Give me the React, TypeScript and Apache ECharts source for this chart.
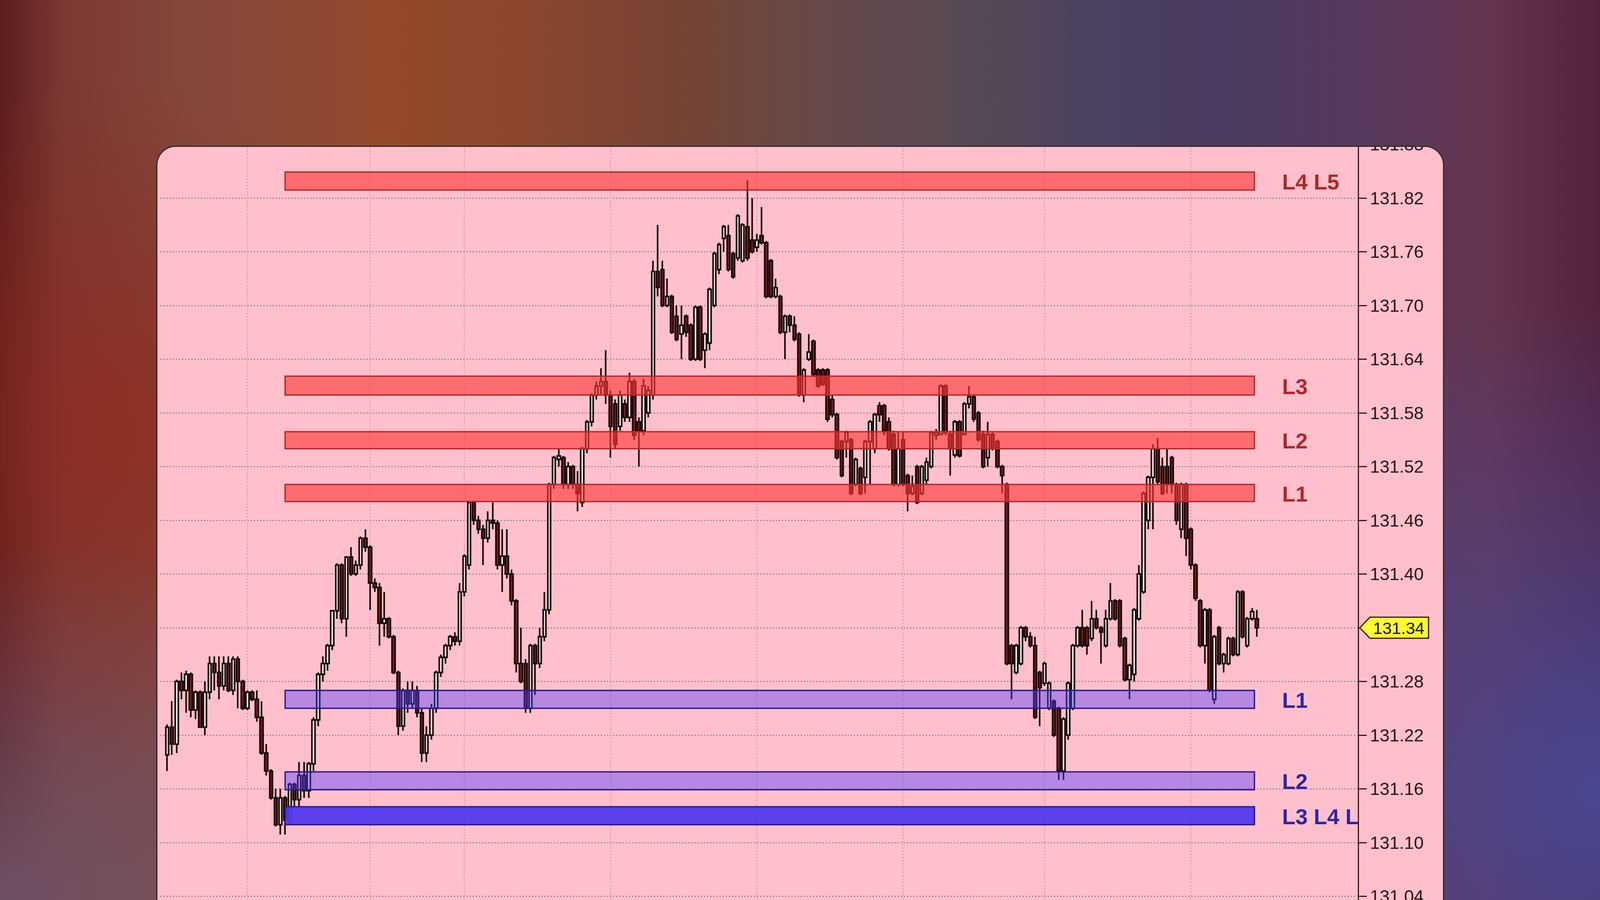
import React, { useEffect, useRef } from 'react';
import * as echarts from 'echarts';

// [open, close, low, high] per bar
const candles: number[][] = [
  [131.198, 131.229, 131.18, 131.232], [131.229, 131.21, 131.198, 131.258], [131.21, 131.28, 131.2, 131.282],
  [131.28, 131.27, 131.26, 131.29], [131.27, 131.288, 131.245, 131.292], [131.288, 131.248, 131.24, 131.29],
  [131.248, 131.268, 131.238, 131.27], [131.268, 131.229, 131.229, 131.27], [131.229, 131.268, 131.22, 131.28],
  [131.268, 131.3, 131.26, 131.308], [131.3, 131.29, 131.27, 131.308], [131.29, 131.275, 131.26, 131.308],
  [131.275, 131.3, 131.27, 131.308], [131.3, 131.27, 131.268, 131.308], [131.27, 131.305, 131.265, 131.308],
  [131.305, 131.28, 131.25, 131.308], [131.28, 131.25, 131.248, 131.282], [131.25, 131.268, 131.248, 131.27],
  [131.268, 131.26, 131.258, 131.27], [131.26, 131.24, 131.235, 131.27], [131.24, 131.2, 131.198, 131.258],
  [131.2, 131.18, 131.175, 131.21], [131.18, 131.15, 131.148, 131.182], [131.15, 131.12, 131.118, 131.16],
  [131.12, 131.15, 131.109, 131.16], [131.15, 131.125, 131.109, 131.152], [131.125, 131.165, 131.12, 131.167],
  [131.165, 131.148, 131.14, 131.167], [131.148, 131.175, 131.14, 131.19], [131.175, 131.158, 131.15, 131.19],
  [131.158, 131.188, 131.15, 131.19], [131.188, 131.237, 131.18, 131.24], [131.237, 131.288, 131.23, 131.29],
  [131.288, 131.3, 131.28, 131.308], [131.3, 131.32, 131.292, 131.322], [131.32, 131.359, 131.315, 131.36],
  [131.359, 131.41, 131.35, 131.412], [131.41, 131.35, 131.345, 131.412], [131.35, 131.419, 131.33, 131.42],
  [131.419, 131.4, 131.398, 131.43], [131.4, 131.41, 131.398, 131.415], [131.41, 131.44, 131.405, 131.442],
  [131.44, 131.43, 131.425, 131.45], [131.43, 131.39, 131.36, 131.432], [131.39, 131.385, 131.38, 131.395],
  [131.385, 131.345, 131.32, 131.39], [131.345, 131.35, 131.33, 131.38], [131.35, 131.33, 131.328, 131.352],
  [131.33, 131.29, 131.288, 131.332], [131.29, 131.23, 131.22, 131.292], [131.23, 131.27, 131.225, 131.272],
  [131.27, 131.255, 131.245, 131.28], [131.255, 131.27, 131.25, 131.28], [131.27, 131.245, 131.24, 131.275],
  [131.245, 131.2, 131.19, 131.25], [131.2, 131.22, 131.19, 131.23], [131.22, 131.25, 131.215, 131.255],
  [131.25, 131.29, 131.245, 131.292], [131.29, 131.307, 131.285, 131.31], [131.307, 131.32, 131.3, 131.322],
  [131.32, 131.33, 131.315, 131.332], [131.33, 131.325, 131.32, 131.335], [131.325, 131.38, 131.32, 131.39],
  [131.38, 131.42, 131.375, 131.422], [131.41, 131.48, 131.405, 131.482], [131.48, 131.46, 131.455, 131.482],
  [131.46, 131.45, 131.445, 131.465], [131.45, 131.44, 131.41, 131.455], [131.44, 131.46, 131.435, 131.47],
  [131.46, 131.457, 131.45, 131.48], [131.457, 131.41, 131.405, 131.46], [131.41, 131.42, 131.38, 131.45],
  [131.42, 131.4, 131.395, 131.45], [131.4, 131.37, 131.365, 131.405], [131.37, 131.3, 131.29, 131.372],
  [131.3, 131.28, 131.278, 131.34], [131.3, 131.25, 131.245, 131.305], [131.25, 131.32, 131.245, 131.322],
  [131.32, 131.3, 131.265, 131.322], [131.3, 131.33, 131.295, 131.34], [131.33, 131.36, 131.325, 131.38],
  [131.36, 131.5, 131.355, 131.502], [131.5, 131.53, 131.495, 131.532], [131.528, 131.532, 131.52, 131.54],
  [131.53, 131.5, 131.495, 131.532], [131.5, 131.52, 131.495, 131.525], [131.52, 131.5, 131.495, 131.522],
  [131.5, 131.49, 131.47, 131.515], [131.48, 131.54, 131.475, 131.542], [131.54, 131.57, 131.535, 131.572],
  [131.57, 131.6, 131.565, 131.602], [131.6, 131.61, 131.595, 131.615], [131.61, 131.615, 131.6, 131.63],
  [131.615, 131.6, 131.59, 131.65], [131.6, 131.565, 131.53, 131.605], [131.59, 131.545, 131.54, 131.595],
  [131.565, 131.6, 131.56, 131.605], [131.59, 131.575, 131.57, 131.595], [131.575, 131.615, 131.57, 131.625],
  [131.615, 131.555, 131.55, 131.618], [131.57, 131.56, 131.52, 131.575], [131.56, 131.61, 131.555, 131.618],
  [131.58, 131.605, 131.575, 131.61], [131.6, 131.738, 131.595, 131.75], [131.738, 131.72, 131.71, 131.79],
  [131.74, 131.7, 131.698, 131.75], [131.7, 131.71, 131.698, 131.73], [131.71, 131.67, 131.668, 131.712],
  [131.688, 131.662, 131.66, 131.7], [131.668, 131.678, 131.64, 131.7], [131.688, 131.67, 131.665, 131.69],
  [131.678, 131.64, 131.638, 131.68], [131.64, 131.698, 131.638, 131.7], [131.698, 131.64, 131.638, 131.7],
  [131.65, 131.668, 131.63, 131.67], [131.658, 131.718, 131.65, 131.72], [131.7, 131.758, 131.698, 131.76],
  [131.74, 131.768, 131.735, 131.77], [131.775, 131.788, 131.76, 131.79], [131.778, 131.74, 131.738, 131.79],
  [131.758, 131.732, 131.73, 131.76], [131.753, 131.8, 131.75, 131.802], [131.75, 131.79, 131.748, 131.792],
  [131.788, 131.753, 131.75, 131.84], [131.773, 131.76, 131.758, 131.82], [131.765, 131.773, 131.76, 131.78],
  [131.778, 131.77, 131.768, 131.81], [131.77, 131.71, 131.708, 131.772], [131.75, 131.71, 131.708, 131.752],
  [131.71, 131.72, 131.708, 131.73], [131.71, 131.67, 131.668, 131.712], [131.67, 131.688, 131.64, 131.69],
  [131.688, 131.678, 131.67, 131.69], [131.678, 131.662, 131.66, 131.688], [131.668, 131.6, 131.598, 131.67],
  [131.6, 131.628, 131.592, 131.63], [131.64, 131.648, 131.638, 131.668], [131.66, 131.623, 131.62, 131.662],
  [131.628, 131.61, 131.608, 131.63], [131.628, 131.612, 131.61, 131.63], [131.628, 131.573, 131.57, 131.63],
  [131.595, 131.578, 131.575, 131.6], [131.578, 131.53, 131.528, 131.58], [131.548, 131.51, 131.508, 131.55],
  [131.548, 131.558, 131.53, 131.56], [131.55, 131.49, 131.488, 131.552], [131.5, 131.528, 131.498, 131.53],
  [131.518, 131.49, 131.488, 131.52], [131.508, 131.548, 131.49, 131.55], [131.548, 131.57, 131.5, 131.572],
  [131.54, 131.578, 131.535, 131.58], [131.588, 131.578, 131.57, 131.592], [131.588, 131.56, 131.555, 131.59],
  [131.57, 131.54, 131.538, 131.575], [131.556, 131.5, 131.498, 131.56], [131.5, 131.54, 131.498, 131.558],
  [131.55, 131.5, 131.498, 131.558], [131.51, 131.49, 131.47, 131.512], [131.49, 131.498, 131.488, 131.51],
  [131.52, 131.48, 131.478, 131.522], [131.49, 131.52, 131.488, 131.522], [131.505, 131.525, 131.5, 131.53],
  [131.52, 131.558, 131.518, 131.56], [131.555, 131.558, 131.55, 131.562], [131.556, 131.61, 131.555, 131.612],
  [131.61, 131.558, 131.555, 131.612], [131.556, 131.54, 131.51, 131.56], [131.533, 131.57, 131.53, 131.572],
  [131.57, 131.532, 131.53, 131.572], [131.556, 131.59, 131.555, 131.592], [131.59, 131.598, 131.585, 131.61],
  [131.598, 131.573, 131.57, 131.6], [131.58, 131.55, 131.548, 131.582], [131.556, 131.52, 131.518, 131.56],
  [131.53, 131.556, 131.52, 131.57], [131.556, 131.54, 131.538, 131.558], [131.548, 131.52, 131.518, 131.55],
  [131.52, 131.51, 131.49, 131.522], [131.5, 131.3, 131.298, 131.502], [131.32, 131.3, 131.26, 131.322],
  [131.29, 131.32, 131.288, 131.322], [131.3, 131.34, 131.298, 131.342], [131.34, 131.33, 131.325, 131.342],
  [131.33, 131.32, 131.318, 131.335], [131.32, 131.24, 131.238, 131.33], [131.29, 131.273, 131.23, 131.292],
  [131.278, 131.3, 131.275, 131.302], [131.25, 131.278, 131.248, 131.28], [131.258, 131.22, 131.218, 131.26],
  [131.25, 131.18, 131.17, 131.252], [131.18, 131.238, 131.17, 131.24], [131.22, 131.278, 131.215, 131.28],
  [131.25, 131.32, 131.248, 131.322], [131.32, 131.34, 131.318, 131.342], [131.34, 131.32, 131.318, 131.36],
  [131.34, 131.32, 131.31, 131.342], [131.328, 131.35, 131.325, 131.37], [131.35, 131.34, 131.338, 131.36],
  [131.34, 131.335, 131.3, 131.342], [131.32, 131.35, 131.318, 131.36], [131.35, 131.37, 131.348, 131.39],
  [131.37, 131.35, 131.348, 131.372], [131.37, 131.32, 131.318, 131.372], [131.328, 131.282, 131.28, 131.33],
  [131.282, 131.298, 131.26, 131.3], [131.288, 131.36, 131.28, 131.362], [131.35, 131.4, 131.348, 131.41],
  [131.38, 131.49, 131.378, 131.492], [131.46, 131.508, 131.45, 131.51], [131.508, 131.54, 131.45, 131.545],
  [131.54, 131.503, 131.5, 131.552], [131.52, 131.49, 131.488, 131.53], [131.52, 131.5, 131.49, 131.54],
  [131.53, 131.5, 131.49, 131.532], [131.5, 131.46, 131.455, 131.502], [131.45, 131.5, 131.44, 131.502],
  [131.5, 131.44, 131.42, 131.502], [131.45, 131.41, 131.405, 131.452], [131.41, 131.373, 131.37, 131.412],
  [131.37, 131.32, 131.318, 131.372], [131.32, 131.36, 131.3, 131.362], [131.36, 131.27, 131.268, 131.362],
  [131.26, 131.33, 131.255, 131.332], [131.34, 131.3, 131.298, 131.342], [131.3, 131.31, 131.29, 131.312],
  [131.3, 131.328, 131.298, 131.33], [131.328, 131.31, 131.308, 131.33], [131.31, 131.38, 131.308, 131.382],
  [131.38, 131.33, 131.328, 131.382], [131.32, 131.35, 131.318, 131.352], [131.35, 131.358, 131.348, 131.362],
  [131.35, 131.34, 131.33, 131.36],
];

const slotCount = 254;
const firstSlot = 1;
const slots = Array.from({ length: slotCount }, (_, i) => String(i));
const sessionSlots = [18, 44, 64, 95, 126, 157, 187, 218];

// [low, high, label, kind]
const zones: [number, number, string, string][] = [
  [131.829, 131.849, 'L4 L5', 'res'],
  [131.6, 131.621, 'L3', 'res'],
  [131.54, 131.559, 'L2', 'res'],
  [131.481, 131.5, 'L1', 'res'],
  [131.25, 131.27, 'L1', 'sup'],
  [131.159, 131.179, 'L2', 'sup'],
  [131.12, 131.14, 'L3 L4 L5', 'supStrong'],
];
const zoneStartSlot = 26;
const zoneEndSlot = 232;

const lastPrice = 131.34;
const yMin = 130.98;
const yMax = 131.88;
const yStep = 0.06;

const zoneStyle: Record<string, { fill: string; stroke: string; text: string }> = {
  res: { fill: 'rgba(255, 55, 55, 0.62)', stroke: '#b02c2c', text: '#ad2828' },
  sup: { fill: 'rgba(80, 60, 255, 0.42)', stroke: '#2b1b92', text: '#3322a0' },
  supStrong: { fill: 'rgba(80, 55, 240, 0.94)', stroke: '#2b1b92', text: '#3322a0' },
};

const labelFont = "'Liberation Sans Narrow', 'Arial Narrow', 'Liberation Sans', sans-serif";
const axisFont = "'Liberation Sans', Arial, sans-serif";

const Chart: React.FC = () => {
  const ref = useRef<HTMLDivElement>(null);

  useEffect(() => {
    if (!ref.current) return;
    const chart = echarts.init(ref.current, undefined, { renderer: 'svg' });

    chart.setOption({
      animation: false,
      grid: { left: 7, top: 33.5, width: 3067, height: 2062.5, containLabel: false, outerBoundsMode: 'none' },
      xAxis: {
        type: 'category',
        data: slots,
        boundaryGap: true,
        show: false,
      },
      yAxis: {
        type: 'value',
        position: 'right',
        min: yMin,
        max: yMax,
        interval: yStep,
        axisLine: { show: true, lineStyle: { color: '#3b1515', width: 3 } },
        axisTick: { show: true, length: 22, lineStyle: { color: '#3b1515', width: 3 } },
        axisLabel: {
          margin: 30,
          color: '#2a1616',
          fontSize: 45,
          fontFamily: axisFont,
          formatter: (v: number) => (Math.abs(v - lastPrice) < 1e-6 ? '' : v.toFixed(2)),
        },
        splitLine: { show: true, lineStyle: { color: '#85747c', width: 2.5, type: [3, 5] } },
      },
      series: [
        {
          // session separators
          type: 'custom',
          z: 1,
          silent: true,
          encode: { x: 0, y: 1 },
          data: sessionSlots.map((s) => [s, lastPrice]),
          renderItem: (params: any, api: any) => {
            const x = api.coord([api.value(0), lastPrice])[0];
            const cs = params.coordSys;
            return {
              type: 'line',
              shape: { x1: x, y1: cs.y, x2: x, y2: cs.y + cs.height },
              style: { stroke: '#b99ba3', lineWidth: 2.5, lineDash: [3, 5] },
            };
          },
        },
        {
          type: 'candlestick',
          z: 2,
          barWidth: 8,
          encode: { x: 0, y: [1, 2, 3, 4] },
          data: candles.map((c, i) => [i + firstSlot, ...c]),
          itemStyle: {
            color: '#f3efef',
            color0: '#7a1c1c',
            borderColor: '#120404',
            borderColor0: '#120404',
            borderWidth: 4,
          },
        },
        {
          // support / resistance zones
          type: 'custom',
          z: 3,
          clip: true,
          silent: true,
          encode: { x: 0, y: [1, 2] },
          data: zones.map((zn) => [zoneStartSlot, zn[0], zn[1]]),
          renderItem: (params: any, api: any) => {
            const zn = zones[params.dataIndex];
            const st = zoneStyle[zn[3]];
            const w = api.size([1, 0])[0];
            const p0 = api.coord([zoneStartSlot, zn[1]]);
            const p1 = api.coord([zoneEndSlot, zn[0]]);
            const x0 = p0[0];
            const x1 = p1[0] - w / 2;
            return {
              type: 'group',
              children: [
                {
                  type: 'rect',
                  shape: { x: x0, y: p0[1], width: x1 - x0, height: p1[1] - p0[1] },
                  style: { fill: st.fill, stroke: st.stroke, lineWidth: 3.5 },
                },
                {
                  type: 'text',
                  x: x1 + 71,
                  y: (p0[1] + p1[1]) / 2 + 2,
                  style: {
                    text: zn[2],
                    fill: st.text,
                    fontSize: 56,
                    fontWeight: 'bold',
                    fontFamily: labelFont,
                    verticalAlign: 'middle',
                    align: 'left',
                  },
                },
              ],
            };
          },
        },
        {
          // last price tag
          type: 'custom',
          z: 10,
          clip: false,
          silent: true,
          encode: { x: 0, y: 1 },
          data: [[candles.length, lastPrice]],
          renderItem: (params: any, api: any) => {
            const cs = params.coordSys;
            const x = cs.x + cs.width;
            const y = api.coord([api.value(0), lastPrice])[1];
            return {
              type: 'group',
              children: [
                {
                  type: 'polygon',
                  shape: {
                    points: [
                      [x + 4, y],
                      [x + 30, y - 27],
                      [x + 180, y - 27],
                      [x + 180, y + 27],
                      [x + 30, y + 27],
                    ],
                  },
                  style: { fill: '#fbfb2e', stroke: '#2a1a10', lineWidth: 3 },
                },
                {
                  type: 'text',
                  x: x + 38,
                  y: y + 1,
                  style: {
                    text: lastPrice.toFixed(2),
                    fill: '#1a1010',
                    fontSize: 43,
                    fontFamily: axisFont,
                    verticalAlign: 'middle',
                    align: 'left',
                  },
                },
              ],
            };
          },
        },
      ],
    });

    return () => {
      chart.dispose();
    };
  }, []);

  // shifted up so the top tick label is cut by the card edge
  return <div ref={ref} style={{ width: 3291, height: 2134, marginTop: -40 }} />;
};

const App: React.FC = () => (
  <div
    style={{
      position: 'fixed',
      left: 0,
      top: 0,
      width: 4098,
      height: 2304,
      overflow: 'hidden',
      background: [
        'radial-gradient(ellipse 32% 40% at 0% 100%, rgba(112, 86, 108, 0.9), rgba(112, 86, 108, 0) 100%)',
        'radial-gradient(ellipse 26% 55% at 100% 88%, rgba(72, 74, 152, 0.95), rgba(72, 74, 152, 0) 100%)',
        'radial-gradient(ellipse 18% 40% at 7% 48%, rgba(145, 42, 30, 0.75), rgba(145, 42, 30, 0) 100%)',
        'linear-gradient(90deg, #5c1c1e 0%, #7b3934 4%, #85483c 12%, #95492b 24%, #8e472c 32%, #764434 42%, #65494a 52%, #584a54 60%, #4b4260 68%, #4a3c60 76%, #563a5d 85%, #66344f 93%, #54213b 100%)',
      ].join(', '),
    }}
  >
    <div
      style={{
        position: 'absolute',
        left: 400,
        top: 373,
        width: 3297,
        height: 2100,
        boxSizing: 'border-box',
        border: '3px solid #2e2a2c',
        borderRadius: 50,
        overflow: 'hidden',
        background: '#ffc0cb',
      }}
    >
      <Chart />
    </div>
  </div>
);

export default App;
